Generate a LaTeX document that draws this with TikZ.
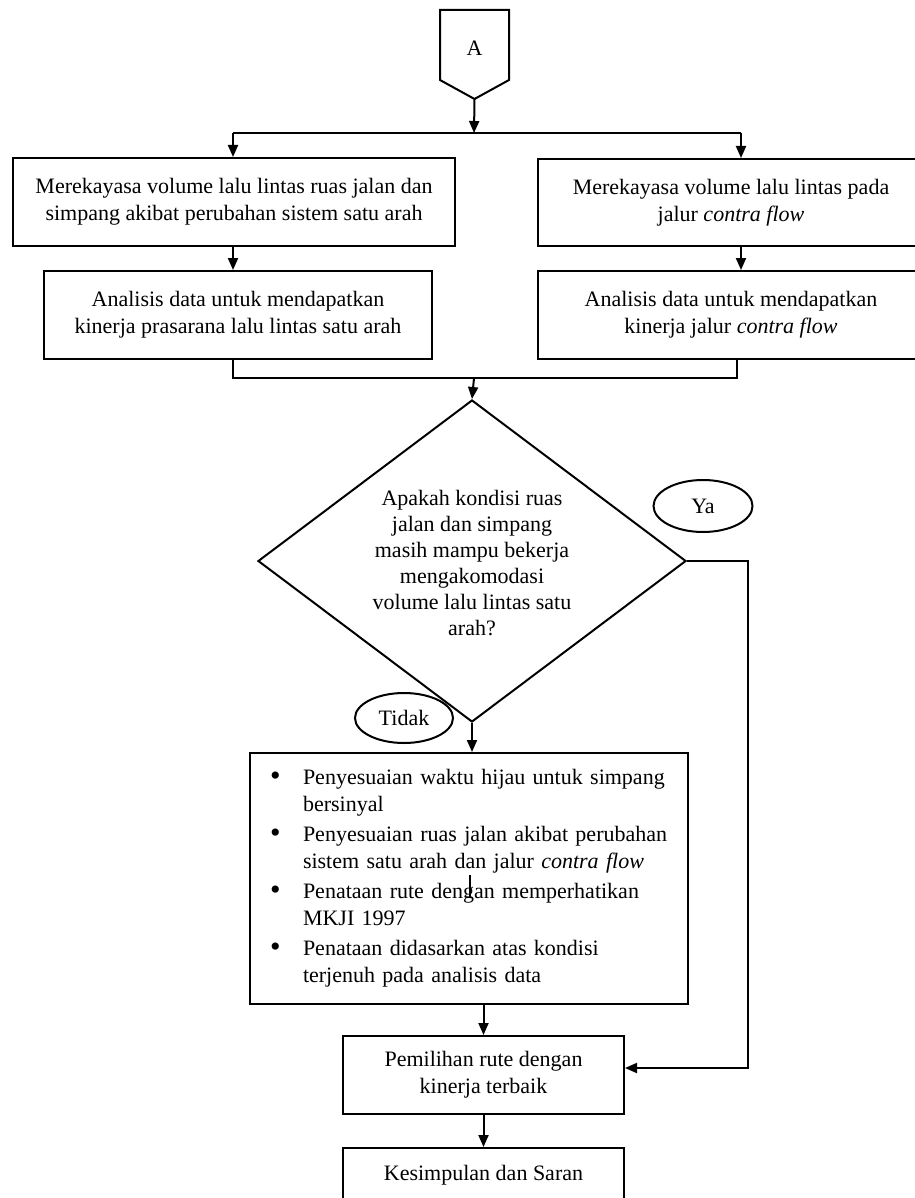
\documentclass[tikz,border=0pt]{standalone}
\usepackage{fontspec}
\setmainfont{Liberation Serif}
\usetikzlibrary{arrows.meta,shapes.geometric,calc}
\begin{document}
\begin{tikzpicture}[x=1pt,y=-1pt,
  line width=2pt,
  every node/.style={font=\fontsize{22}{27}\selectfont},
  box/.style={draw, line width=2pt, anchor=north west, inner sep=0pt, align=center},
  arr/.style={-{Triangle[length=12pt,width=10pt]}},
  oval/.style={draw, ellipse, inner sep=0pt, line width=2pt},
]
\useasboundingbox (0,0) rectangle (914,1198);

% off-page connector A
\node[anchor=north, minimum width=67, minimum height=87, inner sep=0pt] (A) at (474.5,10) {};
\draw (A.north west) -- (A.north east) -- ([yshift=19pt]A.south east) -- (A.south) -- ([yshift=19pt]A.south west) -- cycle;
\node (Alabel) at ([yshift=6.5pt]A.center) {A};

% process boxes
\node[box, minimum width=442, minimum height=88] (L1) at (12,157)
  {Merekayasa volume lalu lintas ruas jalan dan\\simpang akibat perubahan sistem satu arah};
\node[box, minimum width=386, minimum height=87] (R1) at (537,158)
  {Merekayasa volume lalu lintas pada\\jalur \textit{contra flow}};
\node[box, minimum width=388, minimum height=88] (L2) at (43,270)
  {Analisis data untuk mendapatkan\\kinerja prasarana lalu lintas satu arah};
\node[box, minimum width=386, minimum height=88] (R2) at (537,270)
  {Analisis data untuk mendapatkan\\kinerja jalur \textit{contra flow}};

% decision
\node[draw, diamond, minimum width=428, minimum height=322, inner sep=0pt, line width=2pt] (D) at (472,561) {};
\node[align=center, font=\fontsize{22}{26}\selectfont] (Dt) at (472,563)
  {Apakah kondisi ruas\\jalan dan simpang\\masih mampu bekerja\\mengakomodasi\\volume lalu lintas satu\\arah?};

\node[oval, minimum width=99, minimum height=52] (Ya) at (703,506) {Ya};
\node[oval, minimum width=98, minimum height=50] (Tidak) at (404,718) {Tidak};

% bullet box
\newcommand{\bul}{\raisebox{-1pt}{\fontsize{30}{27}\selectfont\textbullet}}
\node[box, minimum width=438, minimum height=251, text width=438, align=left] (B) at (249,752) {%
\begin{tabular}{@{\hspace{20pt}}p{33pt}@{}l@{}}
\bul & Penyesuaian waktu hijau untuk simpang\\
 & bersinyal\\[3pt]
\bul & Penyesuaian ruas jalan akibat perubahan\\
 & sistem satu arah dan jalur \textit{contra flow}\\[3pt]
\bul & Penataan rute dengan memperhatikan\\
 & MKJI 1997\\[3pt]
\bul & Penataan didasarkan atas kondisi\\
 & terjenuh pada analisis data
\end{tabular}};
\draw (470,875) -- (470,897);

\node[box, minimum width=281, minimum height=78] (P) at (342,1035)
  {Pemilihan rute dengan\\kinerja terbaik};
\node[box, minimum width=281, minimum height=54] (K) at (342,1147)
  {Kesimpulan dan Saran};

% connectors
\coordinate (s) at (474,133);
\coordinate (sL) at (233,133);
\coordinate (sR) at (741,133);
\draw[arr] (A.south) -- (s);
\draw (sL) -- (sR);
\draw[arr] (sL) -- (L1.north -| sL);
\draw[arr] (sR) -- (R1.north -| sR);
\draw[arr] (L1.south -| sL) -- (L2.north -| sL);
\draw[arr] (R1.south -| sR) -- (R2.north -| sR);

\coordinate (jL) at (233,378);
\coordinate (jR) at (737,378);
\coordinate (j) at (474,378);
\draw (L2.south -| jL) -- (jL) -- (jR) -- (R2.south -| jR);
\draw[arr] (j) -- (D.north);

\draw[arr] (D.south) -- (B.north -| D.south);
\draw[arr] (B.south -| P.north) -- (P.north);
\draw[arr] (P.south) -- (K.north);

\coordinate (yr) at (748,561);
\coordinate (yb) at (748,1068);
\draw[arr] (D.east) -- (yr) -- (yb) -- (P.east |- yb);
\end{tikzpicture}
\end{document}
